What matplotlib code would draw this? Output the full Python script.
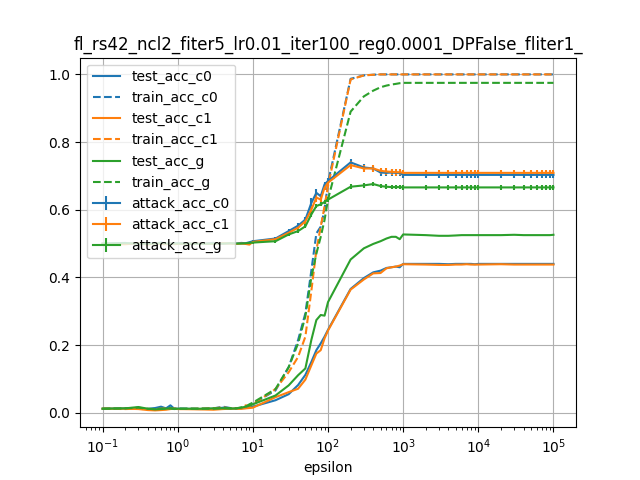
import matplotlib
matplotlib.use("Agg")
import matplotlib.pyplot as plt

# epsilon grid (1..9 per decade, 0.1 to 1e5)
epsilon = [0.1, 0.2, 0.3, 0.4, 0.5, 0.6, 0.7, 0.8, 0.9,
           1, 2, 3, 4, 5, 6, 7, 8, 9,
           10, 20, 30, 40, 50, 60, 70, 80, 90,
           100, 200, 300, 400, 500, 600, 700, 800, 900,
           1000, 2000, 3000, 4000, 5000, 6000, 7000, 8000, 9000,
           10000, 20000, 30000, 40000, 50000, 60000, 70000, 80000, 90000,
           100000]

test_acc_c0 = [0.012, 0.013, 0.012, 0.011, 0.014, 0.018, 0.013, 0.022, 0.012,
               0.012, 0.011, 0.012, 0.015, 0.013, 0.012, 0.013, 0.014, 0.016,
               0.018, 0.037, 0.055, 0.082, 0.112, 0.150, 0.185, 0.205, 0.225,
               0.245, 0.366, 0.398, 0.415, 0.420, 0.428, 0.430, 0.432, 0.430,
               0.440, 0.440, 0.440, 0.439, 0.440, 0.440, 0.440, 0.440, 0.439,
               0.440, 0.440, 0.440, 0.440, 0.440, 0.440, 0.440, 0.440, 0.440,
               0.440]
train_acc_c0 = [0.012, 0.012, 0.013, 0.011, 0.012, 0.013, 0.012, 0.014, 0.012,
                0.012, 0.012, 0.013, 0.018, 0.014, 0.013, 0.014, 0.017, 0.022,
                0.027, 0.066, 0.135, 0.215, 0.294, 0.420, 0.530, 0.550, 0.600,
                0.680, 0.987, 0.997, 0.999, 1.0, 1.0, 1.0, 1.0, 1.0,
                1.0, 1.0, 1.0, 1.0, 1.0, 1.0, 1.0, 1.0, 1.0,
                1.0, 1.0, 1.0, 1.0, 1.0, 1.0, 1.0, 1.0, 1.0,
                1.0]
test_acc_c1 = [0.012, 0.012, 0.011, 0.008, 0.007, 0.008, 0.009, 0.011, 0.012,
               0.011, 0.010, 0.009, 0.011, 0.012, 0.012, 0.012, 0.013, 0.014,
               0.015, 0.046, 0.061, 0.071, 0.098, 0.140, 0.175, 0.185, 0.220,
               0.243, 0.364, 0.394, 0.412, 0.413, 0.427, 0.430, 0.432, 0.435,
               0.439, 0.438, 0.437, 0.437, 0.438, 0.438, 0.439, 0.438, 0.438,
               0.438, 0.439, 0.438, 0.438, 0.438, 0.438, 0.438, 0.438, 0.438,
               0.438]
train_acc_c1 = [0.012, 0.011, 0.012, 0.010, 0.011, 0.012, 0.013, 0.012, 0.012,
                0.011, 0.012, 0.013, 0.016, 0.013, 0.014, 0.012, 0.022, 0.020,
                0.025, 0.070, 0.120, 0.165, 0.225, 0.360, 0.480, 0.550, 0.610,
                0.670, 0.985, 0.997, 0.999, 1.0, 1.0, 1.0, 1.0, 1.0,
                1.0, 1.0, 1.0, 1.0, 1.0, 1.0, 1.0, 1.0, 1.0,
                1.0, 1.0, 1.0, 1.0, 1.0, 1.0, 1.0, 1.0, 1.0,
                1.0]
test_acc_g = [0.012, 0.013, 0.017, 0.012, 0.010, 0.011, 0.012, 0.013, 0.011,
              0.012, 0.012, 0.013, 0.013, 0.012, 0.013, 0.015, 0.018, 0.021,
              0.025, 0.051, 0.081, 0.111, 0.131, 0.215, 0.274, 0.289, 0.287,
              0.327, 0.453, 0.486, 0.499, 0.507, 0.515, 0.520, 0.520, 0.513,
              0.527, 0.525, 0.523, 0.523, 0.524, 0.525, 0.525, 0.525, 0.525,
              0.525, 0.525, 0.526, 0.525, 0.525, 0.525, 0.525, 0.525, 0.525,
              0.526]
train_acc_g = [0.012, 0.013, 0.015, 0.012, 0.011, 0.012, 0.012, 0.013, 0.012,
               0.012, 0.012, 0.012, 0.014, 0.014, 0.013, 0.016, 0.018, 0.025,
               0.030, 0.070, 0.135, 0.205, 0.285, 0.400, 0.470, 0.520, 0.570,
               0.630, 0.890, 0.935, 0.952, 0.962, 0.967, 0.970, 0.972, 0.974,
               0.975, 0.975, 0.975, 0.975, 0.975, 0.975, 0.975, 0.975, 0.975,
               0.975, 0.975, 0.975, 0.975, 0.975, 0.975, 0.975, 0.975, 0.975,
               0.975]

attack_acc_c0 = [0.500, 0.502, 0.498, 0.501, 0.500, 0.503, 0.499, 0.501, 0.500,
                 0.501, 0.500, 0.502, 0.500, 0.501, 0.500, 0.502, 0.501, 0.504,
                 0.507, 0.515, 0.537, 0.553, 0.571, 0.620, 0.650, 0.640, 0.675,
                 0.685, 0.740, 0.725, 0.722, 0.710, 0.709, 0.710, 0.709, 0.709,
                 0.703, 0.703, 0.703, 0.703, 0.703, 0.703, 0.703, 0.703, 0.703,
                 0.703, 0.703, 0.703, 0.703, 0.703, 0.703, 0.703, 0.703, 0.703,
                 0.703]
attack_err_c0 = [0.002] * 18 + [0.003, 0.004, 0.006, 0.007, 0.009, 0.014, 0.012, 0.008, 0.008,
                                0.008, 0.010, 0.009, 0.008, 0.009, 0.009, 0.009, 0.009, 0.009] + [0.009] * 19
attack_acc_c1 = [0.499, 0.498, 0.501, 0.497, 0.500, 0.499, 0.498, 0.500, 0.498,
                 0.499, 0.500, 0.499, 0.501, 0.500, 0.499, 0.500, 0.499, 0.497,
                 0.505, 0.513, 0.532, 0.547, 0.566, 0.600, 0.636, 0.630, 0.665,
                 0.680, 0.732, 0.722, 0.722, 0.715, 0.713, 0.712, 0.711, 0.711,
                 0.709, 0.709, 0.709, 0.709, 0.709, 0.709, 0.709, 0.709, 0.709,
                 0.709, 0.709, 0.709, 0.709, 0.709, 0.709, 0.709, 0.709, 0.709,
                 0.709]
attack_err_c1 = [0.002] * 18 + [0.003, 0.004, 0.006, 0.007, 0.008, 0.012, 0.014, 0.010, 0.008,
                                0.008, 0.013, 0.010, 0.010, 0.009, 0.009, 0.009, 0.010, 0.009] + [0.009] * 19
attack_acc_g = [0.500, 0.501, 0.500, 0.499, 0.500, 0.501, 0.500, 0.499, 0.500,
                0.500, 0.499, 0.500, 0.500, 0.501, 0.500, 0.500, 0.501, 0.502,
                0.503, 0.507, 0.527, 0.537, 0.551, 0.586, 0.611, 0.616, 0.623,
                0.630, 0.668, 0.672, 0.676, 0.670, 0.668, 0.667, 0.667, 0.667,
                0.666, 0.666, 0.666, 0.666, 0.666, 0.666, 0.666, 0.666, 0.666,
                0.666, 0.666, 0.666, 0.666, 0.666, 0.666, 0.666, 0.666, 0.666,
                0.666]
attack_err_g = [0.002] * 18 + [0.003, 0.004, 0.005, 0.005, 0.006, 0.006, 0.006, 0.006, 0.007,
                               0.007, 0.008, 0.007, 0.007, 0.007, 0.007, 0.007, 0.007, 0.007] + [0.007] * 19

title = "fl_rs42_ncl2_fiter5_lr0.01_iter100_reg0.0001_DPFalse_fliter1_"

fig, ax = plt.subplots(figsize=(6.4, 4.8), dpi=100)

ax.plot(epsilon, test_acc_c0, color="C0", label="test_acc_c0")
ax.plot(epsilon, train_acc_c0, color="C0", linestyle="--", label="train_acc_c0")
ax.plot(epsilon, test_acc_c1, color="C1", label="test_acc_c1")
ax.plot(epsilon, train_acc_c1, color="C1", linestyle="--", label="train_acc_c1")
ax.plot(epsilon, test_acc_g, color="C2", label="test_acc_g")
ax.plot(epsilon, train_acc_g, color="C2", linestyle="--", label="train_acc_g")

ax.errorbar(epsilon, attack_acc_c0, yerr=attack_err_c0, color="C0", label="attack_acc_c0")
ax.errorbar(epsilon, attack_acc_c1, yerr=attack_err_c1, color="C1", label="attack_acc_c1")
ax.errorbar(epsilon, attack_acc_g, yerr=attack_err_g, color="C2", label="attack_acc_g")

ax.set_xscale("log")
ax.set_xlabel("epsilon")
ax.set_title(title)
ax.grid(True)
ax.legend(loc="upper left")

fig.savefig("out.png")
